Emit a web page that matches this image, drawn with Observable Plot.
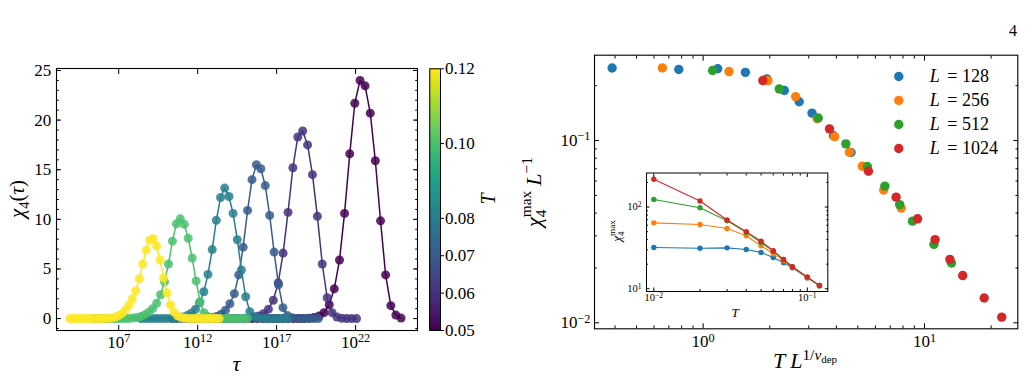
<!DOCTYPE html>
<html>
<head>
<meta charset="utf-8">
<script src="https://cdn.jsdelivr.net/npm/d3@7"></script>
<script src="https://cdn.jsdelivr.net/npm/@observablehq/plot@0.6"></script>
<style>
  html, body { margin: 0; padding: 0; background: #fff; }
  #figure { position: relative; width: 1026px; height: 379px; overflow: hidden; }
</style>
</head>
<body>
<div id="figure"></div>
<script>
// ---------- Left panel: chi_4(tau) for each temperature ----------
const temperatures = [0.05, 0.06, 0.07, 0.08, 0.10, 0.12];

const logTau005 = [15.45, 15.78, 16.10, 16.43, 16.75, 17.08, 17.40, 17.73, 18.05, 18.38, 18.70, 19.03, 19.35, 19.68, 20.00, 20.33, 20.65, 20.98, 21.30, 21.63, 21.95, 22.28, 22.60, 22.93, 23.25, 23.58, 23.90, 24.23, 24.55, 24.88];
const chi005 = [0, 0, 0, 0, 0, 0, 0, 0, 0, 0, 0.01, 0.04, 0.1, 0.25, 0.6, 1.4, 3.0, 5.9, 10.6, 16.6, 21.7, 24.0, 23.45, 20.7, 15.9, 9.85, 4.4, 1.3, 0.35, 0.05];

const logTau006 = [12.76, 13.07, 13.38, 13.69, 14.00, 14.31, 14.62, 14.93, 15.24, 15.55, 15.86, 16.17, 16.48, 16.79, 17.10, 17.41, 17.72, 18.03, 18.34, 18.65, 18.96, 19.27, 19.58, 19.89, 20.20, 20.51, 20.82, 21.13, 21.44, 21.75, 22.06];
const chi006 = [0, 0, 0, 0, 0, 0, 0, 0.01, 0.04, 0.1, 0.25, 0.5, 0.95, 1.85, 3.6, 6.6, 10.7, 15.2, 18.3, 18.9, 17.5, 14.5, 10.3, 5.5, 2.1, 0.6, 0.15, 0.04, 0.01, 0, 0];

const logTau007 = [10.40, 10.68, 10.96, 11.24, 11.52, 11.80, 12.08, 12.36, 12.64, 12.92, 13.20, 13.48, 13.76, 14.04, 14.32, 14.60, 14.88, 15.16, 15.44, 15.72, 16.00, 16.28, 16.56, 16.84, 17.12, 17.40, 17.68, 17.96, 18.24, 18.52, 18.80, 19.08, 19.36, 19.64];
const chi007 = [0, 0, 0, 0, 0, 0, 0.01, 0.02, 0.04, 0.1, 0.22, 0.45, 0.85, 1.5, 2.5, 4.4, 7.2, 10.9, 14.0, 15.5, 15.1, 13.4, 10.4, 6.7, 3.4, 1.1, 0.3, 0.08, 0.02, 0, 0, 0, 0, 0];

const logTau008 = [8.41, 8.68, 8.94, 9.21, 9.47, 9.74, 10.00, 10.27, 10.53, 10.80, 11.06, 11.33, 11.59, 11.86, 12.12, 12.39, 12.65, 12.92, 13.18, 13.45, 13.71, 13.98, 14.24, 14.51, 14.77, 15.04, 15.30, 15.57, 15.83, 16.10, 16.36, 16.63, 16.89, 17.16, 17.42, 17.69];
const chi008 = [0, 0, 0, 0, 0, 0, 0.01, 0.02, 0.04, 0.08, 0.16, 0.3, 0.55, 0.95, 1.6, 2.7, 4.45, 6.95, 9.9, 12.2, 13.15, 12.3, 10.6, 7.95, 4.9, 2.2, 0.7, 0.2, 0.06, 0.02, 0, 0, 0, 0, 0, 0];

const logTau010 = [5.40, 5.65, 5.90, 6.15, 6.40, 6.65, 6.90, 7.15, 7.40, 7.65, 7.90, 8.15, 8.40, 8.65, 8.90, 9.15, 9.40, 9.65, 9.90, 10.15, 10.40, 10.65, 10.90, 11.15, 11.40, 11.65, 11.90, 12.15, 12.40, 12.65, 12.90, 13.15, 13.40, 13.65, 13.90, 14.15, 14.40, 14.65, 14.90, 15.15];
const chi010 = [0, 0, 0, 0, 0, 0, 0, 0, 0, 0.02, 0.05, 0.1, 0.2, 0.38, 0.65, 1.0, 1.55, 2.4, 3.7, 5.5, 7.8, 9.55, 10.05, 9.5, 8.1, 6.1, 3.8, 1.7, 0.6, 0.22, 0.08, 0.03, 0, 0, 0, 0, 0, 0, 0, 0];

const logTau012 = [3.90, 4.12, 4.34, 4.56, 4.78, 5.00, 5.22, 5.44, 5.66, 5.88, 6.10, 6.32, 6.54, 6.76, 6.98, 7.20, 7.42, 7.64, 7.86, 8.08, 8.30, 8.52, 8.74, 8.96, 9.18, 9.40, 9.62, 9.84, 10.06, 10.28, 10.50, 10.72, 10.94, 11.16, 11.38, 11.60, 11.82, 12.04, 12.26, 12.48, 12.70, 12.92, 13.14, 13.36];
const chi012 = [0, 0, 0, 0, 0, 0, 0, 0, 0, 0.01, 0.02, 0.04, 0.08, 0.15, 0.28, 0.5, 0.85, 1.35, 2.0, 2.8, 4.0, 5.5, 6.9, 7.9, 8.05, 7.3, 5.9, 4.1, 2.6, 1.4, 0.65, 0.28, 0.12, 0.05, 0.02, 0, 0, 0, 0, 0, 0, 0, 0, 0];

const curveData = [
  {T: 0.05, logTau: logTau005, chi: chi005},
  {T: 0.06, logTau: logTau006, chi: chi006},
  {T: 0.07, logTau: logTau007, chi: chi007},
  {T: 0.08, logTau: logTau008, chi: chi008},
  {T: 0.10, logTau: logTau010, chi: chi010},
  {T: 0.12, logTau: logTau012, chi: chi012}
];

// ---------- Right panel: peak susceptibility for each system size ----------
const sizes = [128, 256, 512, 1024];
const sizeColors = ["#1f77b4", "#ff7f0e", "#2ca02c", "#d62728"];
const peakTemps = [0.01, 0.02, 0.03, 0.04, 0.05, 0.06, 0.07, 0.08, 0.10, 0.12];
const chiMax128  = [32.0, 31.4, 31.7, 30.3, 27.9, 24.1, 20.9, 18.1, 13.6, 11.0];
const chiMax256  = [64.1, 61.2, 54.6, 44.6, 33.7, 26.9, 22.1, 18.5, 13.7, 10.9];
const chiMax512  = [124, 98.3, 68.1, 49.1, 36.9, 28.8, 22.8, 18.5, 13.8, 10.9];
const chiMax1024 = [218.5, 118.7, 69.5, 50.1, 38.1, 29.3, 22.8, 18.6, 14.0, 11.0];
const chiMaxBySize = [chiMax128, chiMax256, chiMax512, chiMax1024];
const invNuDep = 0.754; // 1/nu_dep used for the scaling collapse

// ---------- shared helpers ----------
const FONT = `"Liberation Serif", "DejaVu Serif", serif`;
const SUP = {"0": "⁰", "1": "¹", "2": "²", "3": "³", "4": "⁴", "5": "⁵", "6": "⁶", "7": "⁷", "8": "⁸", "9": "⁹", "-": "⁻"};
const UNSUP = Object.fromEntries(Object.entries(SUP).map(([k, v]) => [v, k === "-" ? "−" : k]));
const pow10 = d => "10" + String(Math.round(Math.log10(d))).split("").map(c => SUP[c]).join("");

// turn "10⁷"-style tick labels into "10" plus a raised, smaller exponent
function raiseExponents(svg) {
  d3.select(svg).selectAll("text").each(function () {
    const m = /^10([⁻⁰¹²³⁴⁵⁶⁷⁸⁹]+)$/.exec(this.textContent);
    if (!m) return;
    const exp = [...m[1]].map(c => UNSUP[c]).join("");
    const t = d3.select(this);
    t.text("10");
    t.append("tspan").attr("font-size", "0.72em").attr("dy", "-0.45em").text(exp);
  });
}

// inward ticks on all four sides of a frame
function boxTicks({xMajor, xMinor = [], yMajor, yMinor = [], major, minor}) {
  const marks = [];
  for (const anchor of ["bottom", "top"]) {
    marks.push(Plot.axisX(xMajor, {anchor, tickSize: -major, fill: "none", label: null}));
    if (xMinor.length) marks.push(Plot.axisX(xMinor, {anchor, tickSize: -minor, fill: "none", label: null}));
  }
  for (const anchor of ["left", "right"]) {
    marks.push(Plot.axisY(yMajor, {anchor, tickSize: -major, fill: "none", label: null}));
    if (yMinor.length) marks.push(Plot.axisY(yMinor, {anchor, tickSize: -minor, fill: "none", label: null}));
  }
  return marks;
}

// math-style label built from tspans (italic symbols, sub/superscripts)
function addMath(svg, {x, y, rotate = 0, size, anchor = "middle"}, parts) {
  const t = d3.select(svg).append("text")
    .attr("transform", `translate(${x},${y})` + (rotate ? ` rotate(${rotate})` : ""))
    .attr("text-anchor", anchor)
    .attr("font-family", FONT)
    .attr("font-size", size)
    .attr("fill", "black");
  for (const [txt, o = {}] of parts) {
    const s = t.append("tspan").text(txt);
    if (o.i) s.attr("font-style", "italic");
    if (o.s) s.attr("font-size", size * o.s);
    if (o.dx) s.attr("dx", o.dx);
    if (o.dy) s.attr("dy", o.dy);
  }
}

const panelStyle = (left, top) => ({
  position: "absolute", left: `${left}px`, top: `${top}px`,
  background: "none", overflow: "visible", fontFamily: FONT
});

const fig = document.getElementById("figure");
const viridis = {type: "linear", scheme: "viridis", domain: [0.05, 0.12]};

// ---------- left panel ----------
const tauRows = curveData.map(({T, logTau, chi}) =>
  logTau.map((e, i) => ({T, tau: 10 ** e, chi: chi[i]})));

const left = Plot.plot({
  width: 420, height: 379,
  marginLeft: 56, marginRight: 3, marginTop: 68, marginBottom: 49,
  style: panelStyle(0, 0),
  x: {type: "log", domain: [10 ** 3.06, 10 ** 25.92]},
  y: {domain: [-1.2, 25.2]},
  color: viridis,
  marks: [
    ...tauRows.flatMap(rows => [
      Plot.line(rows, {x: "tau", y: "chi", stroke: "T", strokeWidth: 1.5}),
      Plot.dot(rows, {x: "tau", y: "chi", fill: "T", r: 4.5, fillOpacity: 0.85})
    ]),
    Plot.frame({stroke: "black", strokeWidth: 1.1}),
    ...boxTicks({
      xMajor: [1e7, 1e12, 1e17, 1e22],
      yMajor: [0, 5, 10, 15, 20, 25],
      yMinor: d3.range(-1, 26),
      major: 5, minor: 2.8
    }),
    Plot.axisX([1e7, 1e12, 1e17, 1e22], {anchor: "bottom", tickSize: 0, tickPadding: 5, tickFormat: pow10, fontSize: 17, label: null}),
    Plot.axisY([0, 5, 10, 15, 20, 25], {anchor: "left", tickSize: 0, tickPadding: 5.3, tickFormat: d => String(d), fontSize: 17, label: null})
  ]
});
fig.appendChild(left);
raiseExponents(left);
addMath(left, {x: 24, y: 199, rotate: -90, size: 21},
  [["χ", {i: 1}], ["4", {s: 0.7, dy: 5}], ["(", {dy: -5}], ["τ", {i: 1}], [")"]]);
addMath(left, {x: 236.5, y: 371, size: 22}, [["τ", {i: 1}]]);

// ---------- colour bar ----------
const bandStep = 0.0005;
const bands = d3.range(0.05, 0.12 - 1e-9, bandStep);
const cbar = Plot.plot({
  width: 100, height: 379,
  marginLeft: 9.3, marginRight: 80, marginTop: 68.3, marginBottom: 49,
  style: panelStyle(420, 0),
  x: {domain: [0, 1], axis: null},
  y: {domain: [0.05, 0.12]},
  color: viridis,
  marks: [
    Plot.rect(bands, {x1: 0, x2: 1, y1: d => d, y2: d => Math.min(0.12, d + bandStep * 1.4), fill: d => d + bandStep / 2, shapeRendering: "crispEdges"}),
    Plot.frame({stroke: "black", strokeWidth: 1}),
    Plot.axisY(temperatures, {anchor: "right", tickSize: 3, tickPadding: 1.5, tickFormat: d3.format(".2f"), fontSize: 17, label: null})
  ]
});
fig.appendChild(cbar);
addMath(cbar, {x: 75, y: 199, rotate: -90, size: 20}, [["T", {i: 1}]]);

// ---------- right panel: scaling collapse ----------
const peakRows = sizes.map((L, k) => peakTemps.map((T, i) => ({
  L, T,
  chiMax: chiMaxBySize[k][i],
  scaledT: T * L ** invNuDep,
  perSite: chiMaxBySize[k][i] / L
})));
const sizeScale = {type: "ordinal", domain: sizes, range: sizeColors};

const right = Plot.plot({
  width: 506, height: 379,
  marginLeft: 74, marginRight: 8.7, marginTop: 54.7, marginBottom: 50.7,
  style: panelStyle(520, 0),
  x: {type: "log", domain: [0.323, 26.4]},
  y: {type: "log", domain: [0.00927, 0.294]},
  color: sizeScale,
  marks: [
    ...peakRows.map(rows => Plot.dot(rows, {x: "scaledT", y: "perSite", fill: "L", r: 4.7})),
    Plot.frame({stroke: "black", strokeWidth: 1.1}),
    ...boxTicks({
      xMajor: [1, 10],
      xMinor: [0.4, 0.5, 0.6, 0.7, 0.8, 0.9, 2, 3, 4, 5, 6, 7, 8, 9, 20],
      yMajor: [0.01, 0.1],
      yMinor: [0.02, 0.03, 0.04, 0.05, 0.06, 0.07, 0.08, 0.09, 0.2],
      major: 5, minor: 2.8
    }),
    Plot.axisX([1, 10], {anchor: "bottom", tickSize: 0, tickPadding: 6.5, tickFormat: pow10, fontSize: 17, label: null}),
    Plot.axisY([0.01, 0.1], {anchor: "left", tickSize: 0, tickPadding: 4, tickFormat: pow10, fontSize: 17, label: null})
  ]
});
fig.appendChild(right);
raiseExponents(right);
addMath(right, {x: 20.5, y: 192, rotate: -90, size: 22},
  [["χ", {i: 1}], ["4", {s: 0.7, dy: 5}], ["max", {s: 0.7, dx: -7.7, dy: -15}],
   ["L", {i: 1, dx: 5, dy: 10}], ["−1", {s: 0.7, dy: -8.5}]]);
addMath(right, {x: 285, y: 368, size: 22},
  [["T", {i: 1}], ["L", {i: 1, dx: 5}], ["1/", {s: 0.7, dy: -8.5}], ["ν", {s: 0.7, i: 1}], ["dep", {s: 0.5, dy: 3}]]);
addMath(right, {x: 493, y: 36, size: 16}, [["4"]]);

// ---------- inset: chi_4^max versus T ----------
const inset = Plot.plot({
  width: 240, height: 160,
  marginLeft: 46, marginRight: 12.7, marginTop: 7.5, marginBottom: 34,
  style: panelStyle(600, 165),
  x: {type: "log", domain: [0.00896, 0.136]},
  y: {type: "log", domain: [9.27, 261]},
  color: sizeScale,
  marks: [
    Plot.frame({fill: "white"}),
    ...peakRows.flatMap(rows => [
      Plot.line(rows, {x: "T", y: "chiMax", stroke: "L", strokeWidth: 1.1}),
      Plot.dot(rows, {x: "T", y: "chiMax", fill: "L", r: 2.7})
    ]),
    Plot.frame({stroke: "black", strokeWidth: 1}),
    ...boxTicks({
      xMajor: [0.01, 0.1],
      xMinor: [0.02, 0.03, 0.04, 0.05, 0.06, 0.07, 0.08, 0.09],
      yMajor: [10, 100],
      yMinor: [20, 30, 40, 50, 60, 70, 80, 90, 200],
      major: 3.5, minor: 2
    }),
    Plot.axisX([0.01, 0.1], {anchor: "bottom", tickSize: 0, tickPadding: 2.5, tickFormat: pow10, fontSize: 10.5, label: null}),
    Plot.axisY([10, 100], {anchor: "left", tickSize: 0, tickPadding: 5, tickFormat: pow10, fontSize: 10.5, label: null})
  ]
});
fig.appendChild(inset);
raiseExponents(inset);
addMath(inset, {x: 135, y: 151.7, size: 13}, [["T", {i: 1}]]);
addMath(inset, {x: 21, y: 66, rotate: -90, size: 13},
  [["χ", {i: 1}], ["4", {s: 0.7, dy: 3}], ["max", {s: 0.7, dx: -4.5, dy: -9}]]);

// ---------- legend for system sizes ----------
const legend = Plot.plot({
  width: 146, height: 110, margin: 0,
  style: panelStyle(880, 60),
  x: {domain: [0, 1], range: [18.3, 49.3], axis: null},
  y: {type: "point", domain: sizes, range: [15, 89], padding: 0, axis: null},
  color: sizeScale,
  marks: [
    Plot.dot(sizes, {x: 0, y: d => d, fill: d => d, r: 4.7}),
    Plot.text(sizes, {x: 1, y: d => d, text: () => "L", fontStyle: "italic", textAnchor: "start", fontSize: 18}),
    Plot.text(sizes, {x: 1, y: d => d, text: d => "= " + d, dx: 17.5, textAnchor: "start", fontSize: 18})
  ]
});
fig.appendChild(legend);
</script>
</body>
</html>
